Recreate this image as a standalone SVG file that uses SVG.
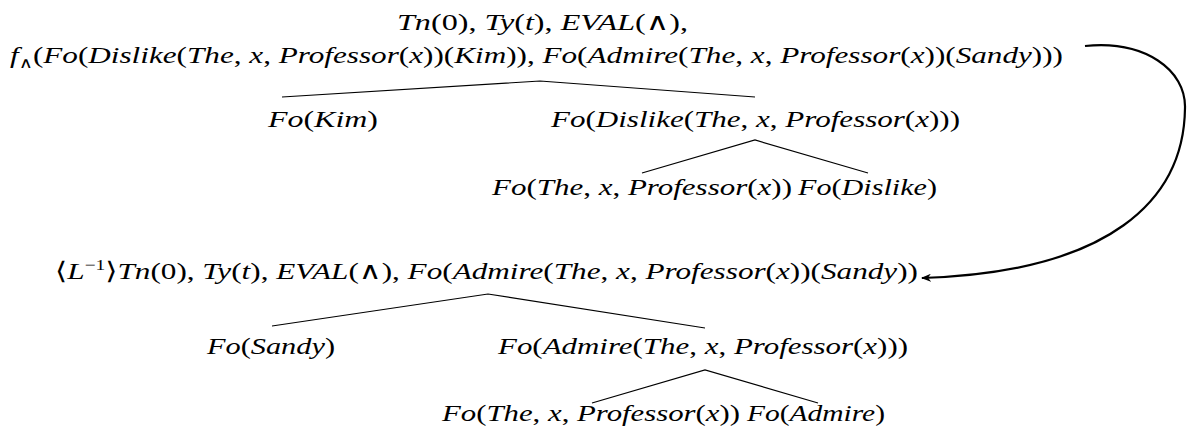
<svg xmlns="http://www.w3.org/2000/svg" width="1199" height="440" viewBox="0 0 1199 440">
<defs>
<style>
text{font-family:"Liberation Serif","DejaVu Serif",serif;font-size:24px;fill:#000}
.i{font-style:italic}
.s{font-size:15px}
.edge{stroke:#000;stroke-width:1.2;fill:none}
.link{stroke:#000;stroke-width:2.2;fill:none}
</style>
<marker id="ah" viewBox="0 0 10 8" refX="9" refY="4" markerWidth="10" markerHeight="8" markerUnits="userSpaceOnUse" orient="auto">
<path d="M0,0 L10,4 L0,8 L3,4 z" fill="#000"/>
</marker>
</defs>
<rect width="1199" height="440" fill="#fff"/>
<g id="connectors">
<path class="edge" d="M282,97 L540,81 L755,97"/>
<path class="edge" d="M642,173 L755,140 L868,173"/>
<path class="edge" d="M272,326 L488,294 L705,328"/>
<path class="edge" d="M592,403 L705,370 L818,403"/>
<path class="link" d="M1085,46 C1145,40 1186,70 1185,108 C1184,200 1110,272 922,278" marker-end="url(#ah)"/>
</g>
<g id="n0">
<text x="397" y="30" textLength="291" lengthAdjust="spacingAndGlyphs"><tspan class="i">Tn</tspan>(0), <tspan class="i">Ty</tspan>(<tspan class="i">t</tspan>), <tspan class="i">EVAL</tspan>(∧),</text>
<text x="10" y="63" textLength="1053" lengthAdjust="spacingAndGlyphs"><tspan class="i">f</tspan><tspan class="s" dy="5">∧</tspan><tspan dy="-5">(</tspan><tspan class="i">Fo</tspan>(<tspan class="i">Dislike</tspan>(<tspan class="i">The</tspan>, <tspan class="i">x</tspan>, <tspan class="i">Professor</tspan>(<tspan class="i">x</tspan>))(<tspan class="i">Kim</tspan>)), <tspan class="i">Fo</tspan>(<tspan class="i">Admire</tspan>(<tspan class="i">The</tspan>, <tspan class="i">x</tspan>, <tspan class="i">Professor</tspan>(<tspan class="i">x</tspan>))(<tspan class="i">Sandy</tspan>)))</text>
</g>
<g id="n_kim">
<text x="268" y="127" textLength="110" lengthAdjust="spacingAndGlyphs"><tspan class="i">Fo</tspan>(<tspan class="i">Kim</tspan>)</text>
</g>
<g id="n_dislike_pred">
<text x="551" y="127" textLength="409" lengthAdjust="spacingAndGlyphs"><tspan class="i">Fo</tspan>(<tspan class="i">Dislike</tspan>(<tspan class="i">The</tspan>, <tspan class="i">x</tspan>, <tspan class="i">Professor</tspan>(<tspan class="i">x</tspan>)))</text>
</g>
<g id="n_the1">
<text x="492" y="195" textLength="300" lengthAdjust="spacingAndGlyphs"><tspan class="i">Fo</tspan>(<tspan class="i">The</tspan>, <tspan class="i">x</tspan>, <tspan class="i">Professor</tspan>(<tspan class="i">x</tspan>))</text>
</g>
<g id="n_dislike">
<text x="798" y="195" textLength="139" lengthAdjust="spacingAndGlyphs"><tspan class="i">Fo</tspan>(<tspan class="i">Dislike</tspan>)</text>
</g>
<g id="n1">
<text x="55" y="279" textLength="863" lengthAdjust="spacingAndGlyphs">⟨<tspan class="i">L</tspan><tspan class="s" dy="-9">−1</tspan><tspan dy="9">⟩</tspan><tspan class="i">Tn</tspan>(0), <tspan class="i">Ty</tspan>(<tspan class="i">t</tspan>), <tspan class="i">EVAL</tspan>(∧), <tspan class="i">Fo</tspan>(<tspan class="i">Admire</tspan>(<tspan class="i">The</tspan>, <tspan class="i">x</tspan>, <tspan class="i">Professor</tspan>(<tspan class="i">x</tspan>))(<tspan class="i">Sandy</tspan>))</text>
</g>
<g id="n_sandy">
<text x="207" y="354" textLength="128" lengthAdjust="spacingAndGlyphs"><tspan class="i">Fo</tspan>(<tspan class="i">Sandy</tspan>)</text>
</g>
<g id="n_admire_pred">
<text x="498" y="354" textLength="410" lengthAdjust="spacingAndGlyphs"><tspan class="i">Fo</tspan>(<tspan class="i">Admire</tspan>(<tspan class="i">The</tspan>, <tspan class="i">x</tspan>, <tspan class="i">Professor</tspan>(<tspan class="i">x</tspan>)))</text>
</g>
<g id="n_the2">
<text x="442" y="421" textLength="298" lengthAdjust="spacingAndGlyphs"><tspan class="i">Fo</tspan>(<tspan class="i">The</tspan>, <tspan class="i">x</tspan>, <tspan class="i">Professor</tspan>(<tspan class="i">x</tspan>))</text>
</g>
<g id="n_admire">
<text x="747" y="421" textLength="138" lengthAdjust="spacingAndGlyphs"><tspan class="i">Fo</tspan>(<tspan class="i">Admire</tspan>)</text>
</g>
</svg>
